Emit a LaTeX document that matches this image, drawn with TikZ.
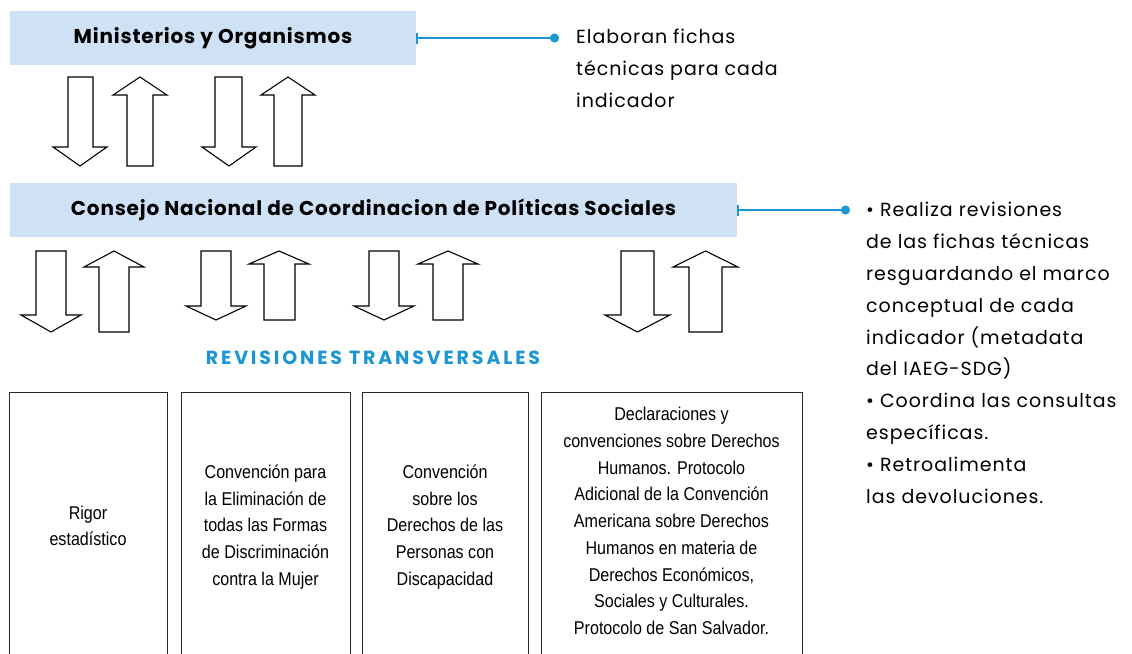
\documentclass[tikz,border=0pt]{standalone}
\usepackage{fontspec}
\setmainfont{Poppins}
\newfontfamily\condfont[FakeStretch=0.87]{Liberation Sans}
\newfontfamily\titlefont[LetterSpace=4]{Poppins}
\newfontfamily\headfont[LetterSpace=15]{Poppins}
\newfontfamily\callfont[LetterSpace=5]{Poppins}
\usetikzlibrary{arrows.meta}
\definecolor{boxblue}{HTML}{CFE2F5}
\definecolor{linkblue}{HTML}{1B95D3}
\newcommand\BlockArr[7]{\draw[blockarrow] (#1,#3) -- (#2,#3) -- (#2,#4) -- (#6,#4) -- ({(#5+#6)/2},#7) -- (#5,#4) -- (#1,#4) -- cycle;}
\begin{document}
\begin{tikzpicture}[x=1pt,y=-1pt,
  titlebox/.style={fill=boxblue, draw=none, inner sep=0pt, font=\titlefont\fontsize{20}{24}\selectfont\bfseries},
  link/.style={draw=linkblue, line width=2pt, {Bar[width=11pt,line width=2pt]}-{Circle[length=9pt]}},
  callout/.style={inner sep=0pt, align=left, font=\callfont\fontsize{19}{31.8}\selectfont},
  blockarrow/.style={draw=black, line width=1.1pt, fill=white, line join=miter},
  revbox/.style={draw=black!85, line width=1pt, inner sep=0pt},
  boxtext/.style={inner sep=0pt, align=center, font=\condfont\fontsize{18.5}{26.7}\selectfont},
  heading/.style={font=\headfont\fontsize{19}{22}\selectfont\bfseries, text=linkblue, inner sep=0pt}]
\useasboundingbox (0,0) rectangle (1132,653);
\clip (0,0) rectangle (1132,653);

% top box
\node[titlebox, minimum width=406pt, minimum height=54pt] (mo) at (213,38) {Ministerios y Organismos};
\coordinate (d1) at (559,38);
\draw[link] (mo.east) -- (d1);
\node[callout, anchor=base west] (c1) at (576,107) {Elaboran fichas\\técnicas para cada\\indicador};

% arrows row 1
\BlockArr{68}{93}{77}{147}{53}{107}{166}
\BlockArr{127}{153}{166}{95}{113}{167}{77}
\BlockArr{215}{242}{77}{147}{202}{256}{166}
\BlockArr{274}{302}{166}{95}{261}{315}{77}

% second box
\node[titlebox, minimum width=727pt, minimum height=54pt] (cn) at (373.5,210) {Consejo Nacional de Coordinacion de Políticas Sociales};
\coordinate (d2) at (850,210);
\draw[link] (cn.east) -- (d2);
\node[callout, anchor=base west] (c2) at (866,503) {• Realiza revisiones\\de las fichas técnicas\\resguardando el marco\\conceptual de cada\\indicador (metadata\\del IAEG-SDG)\\• Coordina las consultas\\específicas.\\• Retroalimenta\\las devoluciones.};

% arrows row 2
\BlockArr{36}{66}{251}{315}{21}{81}{332}
\BlockArr{99}{129}{332}{267}{84}{144}{251}
\BlockArr{201}{231}{251}{306}{186}{246}{320}
\BlockArr{264}{295}{320}{264}{249}{309}{251}
\BlockArr{369}{399}{251}{306}{354}{414}{320}
\BlockArr{433}{463}{320}{264}{418}{478}{251}
\BlockArr{621}{654}{251}{315}{605}{670}{332}
\BlockArr{689}{722}{332}{267}{673}{738}{251}

\node[heading, anchor=base] (rt) at (373,364) {REVISIONES TRANSVERSALES};

% bottom boxes
\node[revbox, minimum width=158pt, minimum height=280pt, anchor=north] (b1) at (88,392) {};
\node[revbox, minimum width=169pt, minimum height=280pt, anchor=north] (b2) at (265.5,392) {};
\node[revbox, minimum width=166pt, minimum height=280pt, anchor=north] (b3) at (445,392) {};
\node[revbox, minimum width=261pt, minimum height=280pt, anchor=north] (b4) at (671.5,392) {};
\node[boxtext] (t1) at (88,526) {Rigor\\estadístico};
\node[boxtext] (t2) at (265.5,527) {Convención para\\la Eliminación de\\todas las Formas\\de Discriminación\\contra la Mujer};
\node[boxtext] (t3) at (445,527) {Convención\\sobre los\\Derechos de las\\Personas con\\Discapacidad};
\node[boxtext] (t4) at (671.5,521) {Declaraciones y\\convenciones sobre Derechos\\Humanos. Protocolo\\Adicional de la Convención\\Americana sobre Derechos\\Humanos en materia de\\Derechos Económicos,\\Sociales y Culturales.\\Protocolo de San Salvador.};
\end{tikzpicture}
\end{document}
